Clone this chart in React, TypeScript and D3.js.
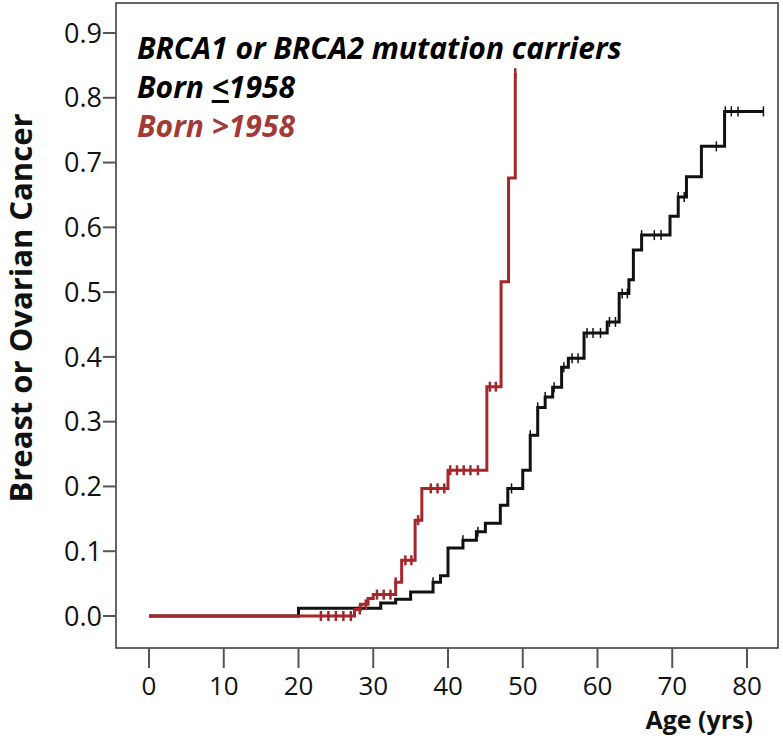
import React from "react";
import * as d3 from "d3";

// Step changes (age, cumulative incidence)
const bornBeforeAges = [0, 20, 31, 33, 35, 38, 39, 40, 42, 43.8, 45, 47, 48, 50, 51, 52, 53, 54, 55.2, 56.1, 58.2, 61.3, 62.9, 64.2, 64.8, 65.9, 69.7, 70.8, 71.9, 73.9, 77, 82.2];
const bornBeforeValues = [0, 0.012, 0.02, 0.026, 0.037, 0.052, 0.062, 0.105, 0.117, 0.13, 0.143, 0.171, 0.197, 0.225, 0.279, 0.322, 0.338, 0.353, 0.384, 0.398, 0.437, 0.454, 0.498, 0.519, 0.565, 0.588, 0.617, 0.647, 0.678, 0.725, 0.779, 0.779];
const bornBeforeCensorAges = [38, 42, 44, 48.5, 51, 52, 53, 54.2, 55.5, 56.6, 57.4, 58.6, 59.4, 60.4, 61.6, 62.4, 63.3, 64, 65.9, 67.6, 68.5, 70.8, 71.6, 75.9, 77.1, 77.9, 78.8, 82.2];

const bornAfterAges = [0, 27.5, 28.3, 29.3, 30, 33, 33.8, 35.6, 36.5, 40, 45.2, 47.1, 48.1, 49];
const bornAfterValues = [0, 0.01, 0.018, 0.027, 0.033, 0.052, 0.086, 0.148, 0.197, 0.225, 0.354, 0.516, 0.676, 0.838];
const bornAfterCensorAges = [23, 24, 25, 26, 27, 28.2, 29, 30.5, 31.4, 32.3, 33, 34.3, 35.1, 36, 37.7, 38.6, 39.5, 40.3, 41.2, 42.1, 43, 44, 45.6, 46.4, 49];

const yTicks = [0, 0.1, 0.2, 0.3, 0.4, 0.5, 0.6, 0.7, 0.8, 0.9];
const xTicks = [0, 10, 20, 30, 40, 50, 60, 70, 80];

const legendTitle = "BRCA1 or BRCA2 mutation carriers";
const yTitle = "Breast or Ovarian Cancer";
const xTitle = "Age (yrs)";

const BLACK = "#111111";
const RED = "#a3272b";
const RED_TEXT = "#a23a38";
const FONT = "'Open Sans', Lato, sans-serif";

function valueAt(ages: number[], values: number[], t: number) {
  let v = 0;
  for (let i = 0; i < ages.length; i++) if (ages[i] <= t + 1e-9) v = values[i];
  return v;
}

export default function App() {
  const W = 783, H = 738;
  const frame = { left: 116, right: 778, top: 3, bottom: 648 };
  const x = d3.scaleLinear().domain([0, 80]).range([149, 747]);
  const y = d3.scaleLinear().domain([0, 0.9]).range([616, 33]);

  const line = d3.line<[number, number]>().x(d => x(d[0])).y(d => y(d[1])).curve(d3.curveStepAfter);
  const blackPts = bornBeforeAges.map((a, i) => [a, bornBeforeValues[i]] as [number, number]);
  const redPts = bornAfterAges.map((a, i) => [a, bornAfterValues[i]] as [number, number]);

  const censor = (ages: number[], vals: number[], cs: number[], color: string, w: number, key: string) =>
    cs.map((c, i) => {
      const v = valueAt(ages, vals, c);
      const cx = x(c), cy = y(v);
      return <line key={key + i} x1={cx} x2={cx} y1={cy - 5} y2={cy + 5} stroke={color} strokeWidth={w} />;
    });

  return (
    <svg width={W} height={H} style={{ display: "block", position: "absolute", left: 0, top: 0, background: "#fff" }}>
      <rect x={0} y={0} width={W} height={H} fill="#fff" />
      <rect x={frame.left} y={frame.top} width={frame.right - frame.left} height={frame.bottom - frame.top}
        fill="none" stroke="#333" strokeWidth={1.5} />
      {yTicks.map(t => (
        <g key={"y" + t}>
          <line x1={103} x2={frame.left} y1={y(t)} y2={y(t)} stroke="#555" strokeWidth={2} />
          <text x={102} y={y(t)} dy="0.36em" textAnchor="end" fontFamily={FONT} fontSize={27} fill="#111">{d3.format(".1f")(t)}</text>
        </g>
      ))}
      {xTicks.map(t => (
        <g key={"x" + t}>
          <line x1={x(t)} x2={x(t)} y1={frame.bottom} y2={668} stroke="#555" strokeWidth={2} />
          <text x={x(t)} y={695} textAnchor="middle" fontFamily={FONT} fontSize={26} fill="#111">{t}</text>
        </g>
      ))}
      <text x={753} y={729} textAnchor="end" fontFamily={FONT} fontSize={25} fontWeight="bold" fill="#111">{xTitle}</text>
      <text transform="translate(32,308) rotate(-90)" textAnchor="middle" fontFamily={FONT} fontSize={31} fontWeight="bold" fill="#111">{yTitle}</text>

      <path d={line(blackPts) || ""} fill="none" stroke={BLACK} strokeWidth={3} />
      {censor(bornBeforeAges, bornBeforeValues, bornBeforeCensorAges, BLACK, 1.5, "bc")}
      <path d={line(redPts) || ""} fill="none" stroke={RED} strokeWidth={3} />
      {censor(bornAfterAges, bornAfterValues, bornAfterCensorAges, RED, 2.5, "rc")}

      <text x={137} y={59} fontFamily={FONT} fontSize={30} fontWeight="bold" fontStyle="italic" fill="#000">{legendTitle}</text>
      <text x={137} y={98} fontFamily={FONT} fontSize={30} fontWeight="bold" fontStyle="italic" fill="#000">
        Born <tspan textDecoration="underline">&lt;</tspan>1958
      </text>
      <text x={137} y={137} fontFamily={FONT} fontSize={30} fontWeight="bold" fontStyle="italic" fill={RED_TEXT}>Born &gt;1958</text>
    </svg>
  );
}
